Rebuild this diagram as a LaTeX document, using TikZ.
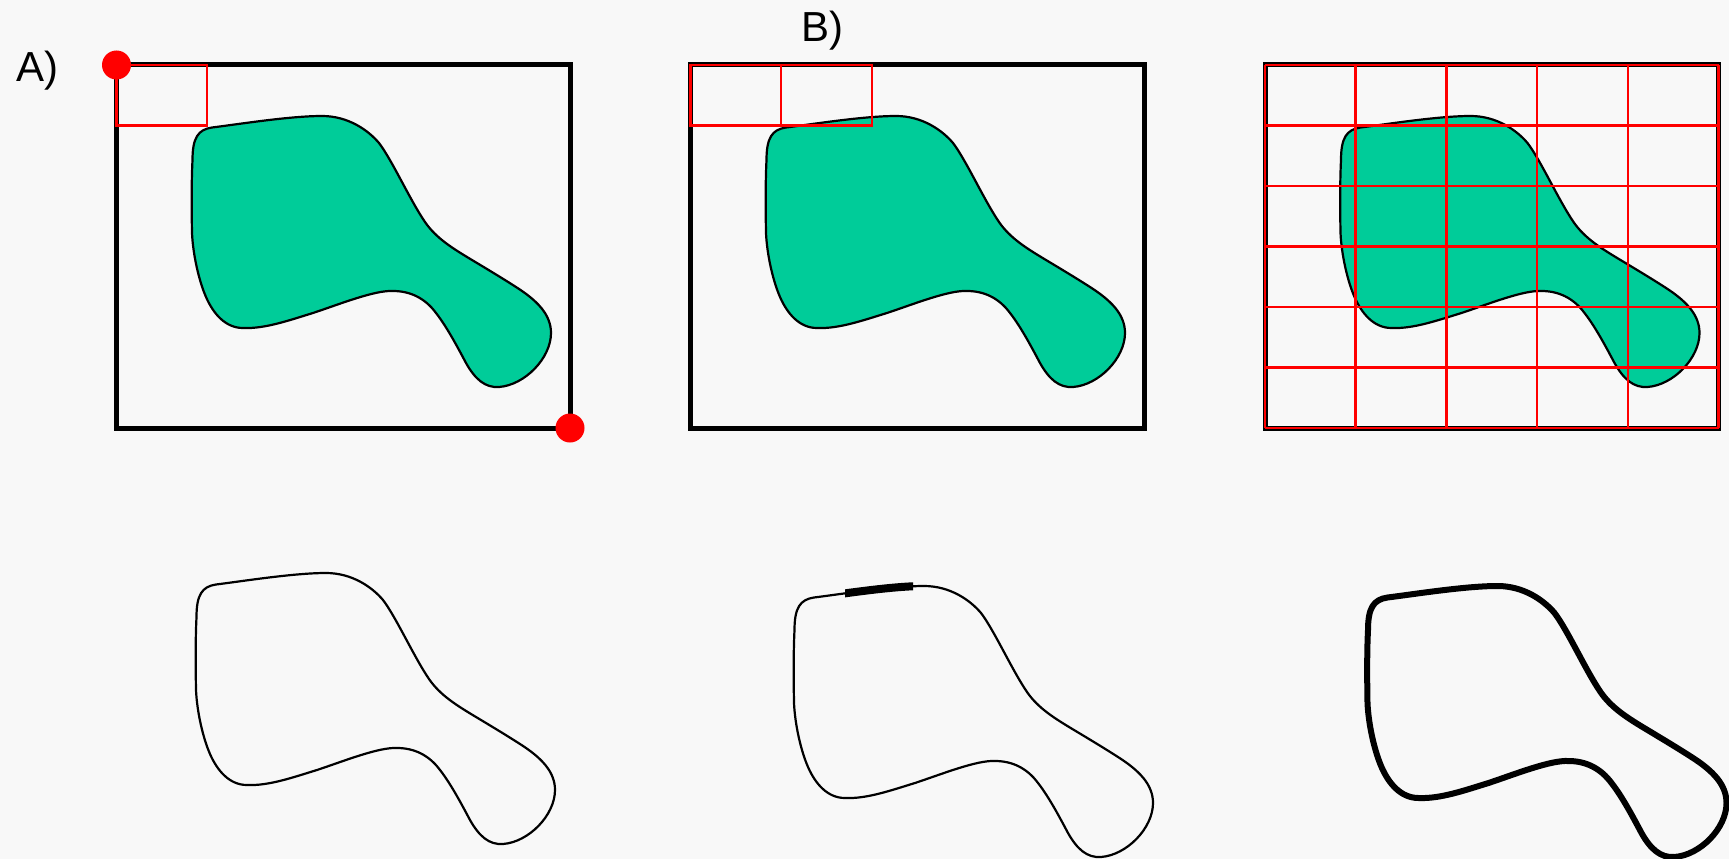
\documentclass[tikz,border=0pt]{standalone}
\usepackage{fontspec}
\setmainfont{Liberation Sans}
\definecolor{bg}{HTML}{F8F8F8}
\definecolor{blobgreen}{HTML}{00CC99}
\definecolor{gridred}{HTML}{FF0000}
\newcommand\blobpath{(192.5,160)
 .. controls (192.5,138) and (198,129.5) .. (212,127.5)
 .. controls (240,124) and (290,116) .. (322,116)
 .. controls (348,116) and (368,130) .. (379,143)
 .. controls (392,160) and (410,200) .. (425,222)
 .. controls (436,238) and (452,248) .. (472,260)
 .. controls (487,269) and (502,278) .. (516,287)
 .. controls (538,301) and (551,315) .. (551,333)
 .. controls (551,358) and (525,385) .. (499,387)
 .. controls (485,388) and (475,379) .. (466,363)
 .. controls (458,348) and (447,327) .. (436,313)
 .. controls (425,298) and (410,291) .. (393,291)
 .. controls (375,290) and (340,304) .. (313,313)
 .. controls (290,320) and (265,329) .. (243,328)
 .. controls (225,328) and (213,313) .. (206,297)
 .. controls (199,281) and (193,255) .. (192,233)
 .. controls (191.5,205) and (191.5,180) .. (192.5,160) -- cycle}
\tikzset{
  frame/.style={draw=black, line width=5pt},
  blobfilled/.style={draw=black, fill=blobgreen, line width=2.2pt},
  blobthin/.style={draw=black, line width=2.2pt},
  blobthick/.style={draw=black, line width=6pt},
  cellline/.style={draw=gridred, line width=2.2pt},
  gridline/.style={draw=gridred, line width=2.6pt},
  reddot/.style={circle, fill=gridred, inner sep=0pt, minimum size=29pt},
  lbl/.style={font=\fontsize{42}{50}\selectfont, inner sep=0pt, anchor=base west}
}
\begin{document}
\begin{tikzpicture}[x=1pt,y=-1pt]
\fill[bg] (0,0) rectangle (1729,859);
\useasboundingbox (0,0) rectangle (1729,859);
% labels
\node[lbl] (la) at (16,81.7) {A)};
\node[lbl] (lb) at (801,41.7) {B)};
% ---- panel A
\draw[frame] (116.5,65) rectangle (570,428);
\path[blobfilled] \blobpath;
\draw[cellline] (116.5,65) rectangle (207.2,125.5);
\node[reddot] (d1) at (116.5,65) {};
\node[reddot] (d2) at (570,428) {};
% ---- panel B
\begin{scope}[shift={(574,0)}]
\draw[frame] (116.5,65) rectangle (570,428);
\path[blobfilled] \blobpath;
\draw[cellline] (116.5,65) rectangle (297.9,125.5);
\draw[cellline] (207.2,65) -- (207.2,125.5);
\end{scope}
% ---- panel C
\begin{scope}[shift={(1148.5,0)}]
\draw[frame] (116.5,65) rectangle (570,428);
\path[blobfilled] \blobpath;
\foreach \i in {0,...,5} {
  \draw[gridline] ({116.5+\i*90.7},65) -- ({116.5+\i*90.7},428);
}
\foreach \j in {0,...,6} {
  \draw[gridline] (116.5,{65+\j*60.5}) -- (570,{65+\j*60.5});
}
\end{scope}
% ---- bottom row
\begin{scope}[shift={(4,457)}]
\path[blobthin] \blobpath;
\end{scope}
\begin{scope}[shift={(602,470)}]
\path[blobthin] \blobpath;
\begin{scope}
\clip (243,95) rectangle (311,140);
\path[draw=black, line width=8pt] \blobpath;
\end{scope}
\end{scope}
\begin{scope}[shift={(1175.5,470)}]
\path[blobthick] \blobpath;
\end{scope}
\end{tikzpicture}
\end{document}
